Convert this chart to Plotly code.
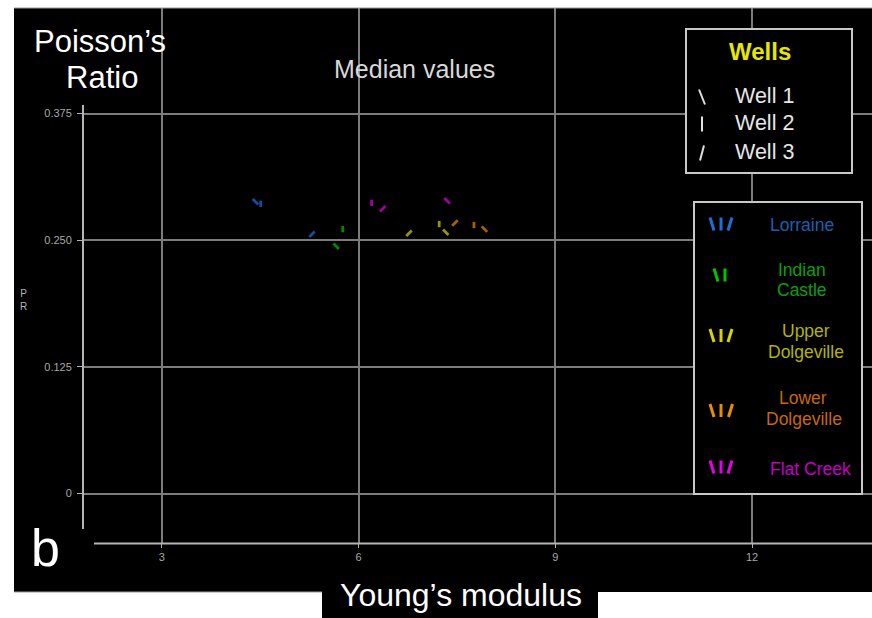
import plotly.graph_objects as go

# ---------------- data (median values per formation, per well) ----------------
formations = ["Lorraine", "Indian Castle", "Upper Dolgeville", "Lower Dolgeville", "Flat Creek"]
wells = ["Well 1", "Well 2", "Well 3"]

lorraine_ym = [4.43, 4.51, 5.29]
lorraine_pr = [0.288, 0.286, 0.256]
indian_castle_ym = [5.66, 5.76, None]
indian_castle_pr = [0.244, 0.261, None]
upper_dolgeville_ym = [7.33, 7.23, 6.77]
upper_dolgeville_pr = [0.258, 0.266, 0.257]
lower_dolgeville_ym = [7.92, 7.76, 7.47]
lower_dolgeville_pr = [0.261, 0.265, 0.267]
flat_creek_ym = [7.35, 6.20, 6.37]
flat_creek_pr = [0.289, 0.287, 0.281]

x_ticks = [3, 6, 9, 12]
x_tick_labels = ["3", "6", "9", "12"]
y_ticks = [0, 0.125, 0.25, 0.375]
y_tick_labels = ["0", "0.125", "0.250", "0.375"]

# ---------------- styles ----------------
FONT = "Liberation Sans, Arial, sans-serif"
well_symbols = ["line-nw", "line-ns", "line-ne"]
well_sizes = [5.5, 4.5, 5.5]
marker_colors = ["#1e6ed8", "#00c400", "#d4d400", "#ec8c00", "#e600e6"]
text_colors = ["#1a60b0", "#0aa00a", "#b4b400", "#c8680a", "#c400c4"]

series = [
    (lorraine_ym, lorraine_pr),
    (indian_castle_ym, indian_castle_pr),
    (upper_dolgeville_ym, upper_dolgeville_pr),
    (lower_dolgeville_ym, lower_dolgeville_pr),
    (flat_creek_ym, flat_creek_pr),
]

fig = go.Figure()
for name, (xs, ys), col in zip(formations, series, marker_colors):
    px_, py_, sy, sz, tx = [], [], [], [], []
    for i, (xv, yv) in enumerate(zip(xs, ys)):
        if xv is None or yv is None:
            continue
        px_.append(xv)
        py_.append(yv)
        sy.append(well_symbols[i])
        sz.append(well_sizes[i])
        tx.append(wells[i])
    fig.add_trace(go.Scatter(
        x=px_, y=py_, mode="markers", name=name, text=tx,
        marker=dict(symbol=sy, size=sz, color=col,
                    line=dict(color=col, width=2.8)),
        showlegend=False,
    ))

# ---------------- layout geometry (pixel helpers) ----------------
W, H = 872, 618
L, R, T, B = 83, 872, 8, 543


def X(p):
    return (p - L) / (R - L)


def Y(p):
    return (B - p) / (B - T)


shapes = []
# white page border areas outside the black panel
for (x0, y0, x1, y1) in [(0, 0, 14, 618), (0, 0, 872, 8), (0, 592, 322, 618), (598, 592, 872, 618)]:
    shapes.append(dict(type="rect", xref="paper", yref="paper", layer="above",
                       x0=X(x0), x1=X(x1), y0=Y(y0), y1=Y(y1),
                       fillcolor="white", line=dict(width=0)))
# faint gray edge of the black panel
shapes.append(dict(type="line", xref="paper", yref="paper", layer="above",
                   x0=X(14), x1=X(872), y0=Y(8), y1=Y(8),
                   line=dict(color="#9a9a9a", width=1)))
shapes.append(dict(type="line", xref="paper", yref="paper", layer="above",
                   x0=X(14), x1=X(322), y0=Y(592), y1=Y(592),
                   line=dict(color="#9a9a9a", width=1)))

# axis lines
shapes.append(dict(type="line", xref="paper", yref="paper", layer="above",
                   x0=X(83), x1=X(83), y0=Y(105), y1=Y(529),
                   line=dict(color="#b4b4b4", width=2)))
shapes.append(dict(type="line", xref="paper", yref="paper", layer="above",
                   x0=X(94), x1=X(872), y0=Y(543.5), y1=Y(543.5),
                   line=dict(color="#b4b4b4", width=2)))

# legend boxes
for (x0, y0, x1, y1) in [(686, 29, 852, 173), (694, 202, 862, 494)]:
    shapes.append(dict(type="rect", xref="paper", yref="paper", layer="above",
                       x0=X(x0), x1=X(x1), y0=Y(y0), y1=Y(y1),
                       fillcolor="black", line=dict(color="#c8c8c8", width=2)))

# Wells legend glyphs
well_glyph_rows = [97, 124, 153]
for k, cy in enumerate(well_glyph_rows):
    cx = 702
    if k == 0:
        xa, xb = cx - 3, cx + 3
    elif k == 1:
        xa, xb = cx, cx
    else:
        xa, xb = cx + 2, cx - 2
    shapes.append(dict(type="line", xref="paper", yref="paper", layer="above",
                       x0=X(xa), x1=X(xb), y0=Y(cy - 7.5), y1=Y(cy + 7.5),
                       line=dict(color="#e0e0e0", width=2)))

# formation legend glyphs
glyph_rows = [224, 275, 335.5, 410.5, 467]
glyph_cols = [[712, 721, 730], [716, 725], [712, 721, 730], [712, 721, 730.5], [712, 721, 730]]
for cy, cols, col in zip(glyph_rows, glyph_cols, marker_colors):
    for k, cx in enumerate(cols):
        if k == 0:
            xa, xb = cx - 2, cx + 2
        elif k == 1:
            xa, xb = cx, cx
        else:
            xa, xb = cx + 2, cx - 2
        shapes.append(dict(type="line", xref="paper", yref="paper", layer="above",
                           x0=X(xa), x1=X(xb), y0=Y(cy - 6.5), y1=Y(cy + 6.5),
                           line=dict(color=col, width=3)))

annotations = []


def ann(text, xp, yp, size, color, bold=False, xanchor="center"):
    t = f"<b>{text}</b>" if bold else text
    annotations.append(dict(text=t, xref="paper", yref="paper", x=X(xp), y=Y(yp),
                            xanchor=xanchor, yanchor="middle", showarrow=False,
                            font=dict(family=FONT, size=size, color=color)))


ann("Poisson\u2019s", 100, 42, 31, "white")
ann("Ratio", 102, 77, 31, "white")
ann("Median values", 414, 69, 25, "#d8d8d8")
ann("b", 45.5, 548, 52, "white")
ann("Young\u2019s modulus", 461, 595, 32, "white")
ann("P<br>R", 23, 300, 10, "#b4b4b4")

ann("Wells", 760, 52, 24, "#e6e600", bold=True)
for name, cy in zip(wells, well_glyph_rows):
    ann(name, 733, cy - 1, 21.5, "#e6e6e6", xanchor="left")

legend_text_rows = [
    [("Lorraine", 802, 225)],
    [("Indian", 802, 270), ("Castle", 802, 290)],
    [("Upper", 806, 331), ("Dolgeville", 806, 352)],
    [("Lower", 803, 398), ("Dolgeville", 804, 419)],
    [("Flat Creek", 810, 469)],
]
for rows, col in zip(legend_text_rows, text_colors):
    for (t, xp, yp) in rows:
        ann(t, xp, yp, 17.5, col)

fig.update_layout(
    width=W, height=H,
    margin=dict(l=L, r=W - R, t=T, b=H - B, pad=0),
    paper_bgcolor="black", plot_bgcolor="black",
    font=dict(family=FONT, color="#aaaaaa"),
    xaxis=dict(range=[(L + 35.1) / 65.6, (R + 35.1) / 65.6],
               tickmode="array", tickvals=x_ticks, ticktext=x_tick_labels,
               showgrid=True, gridcolor="#7c7c7c", gridwidth=1.5,
               zeroline=False, showline=False,
               ticks="outside", ticklen=4, tickcolor="#b4b4b4", tickwidth=1,
               tickfont=dict(family=FONT, size=11, color="#a8a8a8")),
    yaxis=dict(range=[(493.6 - B) / 1013.3, (493.6 - T) / 1013.3],
               tickmode="array", tickvals=y_ticks, ticktext=y_tick_labels,
               showgrid=True, gridcolor="#7c7c7c", gridwidth=1.5,
               zeroline=False, showline=False,
               ticks="outside", ticklen=5, tickcolor="#b4b4b4", tickwidth=1,
               ticklabelstandoff=3,
               tickfont=dict(family=FONT, size=11, color="#a8a8a8")),
    shapes=shapes,
    annotations=annotations,
    showlegend=False,
)

fig.write_html("out.html")
